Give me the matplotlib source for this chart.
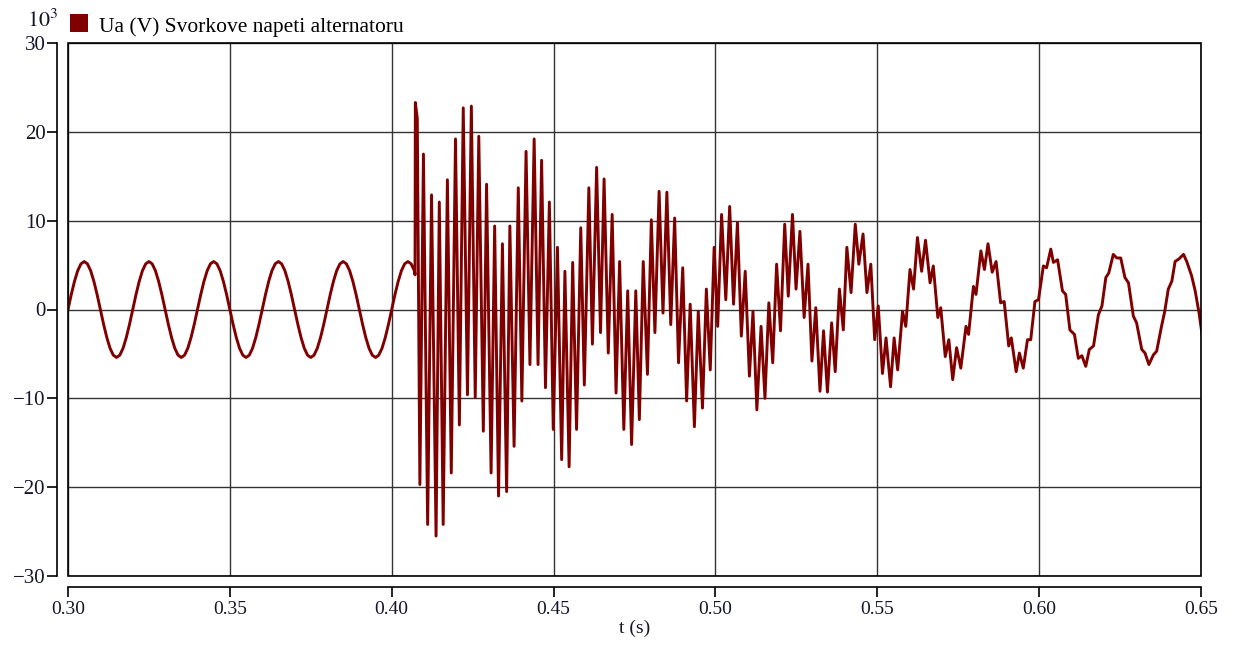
import numpy as np
import matplotlib
matplotlib.use('Agg')
import matplotlib.pyplot as plt
from matplotlib.patches import Rectangle

# napeti pred poruchou, vzorky po 1 ms (10^3 V)
t_pre = np.round(np.arange(0.300, 0.4075, 0.001), 3)
v_pre = [
    0, 1.67, 3.17, 4.37, 5.14, 5.40, 5.14, 4.37, 3.17, 1.67, 0, -1.67, -3.17, -4.37, -5.14, -5.40, -5.14, -4.37, -3.17, -1.67,
    0, 1.67, 3.17, 4.37, 5.14, 5.40, 5.14, 4.37, 3.17, 1.67, 0, -1.67, -3.17, -4.37, -5.14, -5.40, -5.14, -4.37, -3.17, -1.67,
    0, 1.67, 3.17, 4.37, 5.14, 5.40, 5.14, 4.37, 3.17, 1.67, 0, -1.67, -3.17, -4.37, -5.14, -5.40, -5.14, -4.37, -3.17, -1.67,
    0, 1.67, 3.17, 4.37, 5.14, 5.40, 5.14, 4.37, 3.17, 1.67, 0, -1.67, -3.17, -4.37, -5.14, -5.40, -5.14, -4.37, -3.17, -1.67,
    0, 1.67, 3.17, 4.37, 5.14, 5.40, 5.14, 4.37, 3.17, 1.67, 0, -1.67, -3.17, -4.37, -5.14, -5.40, -5.14, -4.37, -3.17, -1.67,
    0, 1.67, 3.17, 4.37, 5.14, 5.40, 5.14, 4.37,
]

# prechodovy dej - vrcholy a udoli
t_tr = [
    0.4072, 0.4073, 0.4079, 0.4087, 0.4098, 0.4111, 0.4123, 0.4137, 0.4147, 0.4159,
    0.4172, 0.4184, 0.4197, 0.4209, 0.4221, 0.4234, 0.4246, 0.4258, 0.4269, 0.4283,
    0.4293, 0.4307, 0.4318, 0.4330, 0.4342, 0.4355, 0.4365, 0.4378, 0.4391, 0.4402,
    0.4415, 0.4427, 0.4440, 0.4452, 0.4463, 0.4475, 0.4487, 0.4499, 0.4512,
    0.4525, 0.4535, 0.4548, 0.4559, 0.4571, 0.4584, 0.4595, 0.4609, 0.4620, 0.4633,
    0.4645, 0.4656, 0.4669, 0.4681, 0.4693, 0.4704, 0.4717, 0.4729, 0.4741, 0.4754,
    0.4765, 0.4777, 0.4790, 0.4802, 0.4813, 0.4826, 0.4838, 0.4850, 0.4862, 0.4874,
    0.4886, 0.4899, 0.4911, 0.4922, 0.4935, 0.4947, 0.4960, 0.4972, 0.4984, 0.4996,
    0.5007, 0.5019, 0.5032, 0.5044, 0.5056, 0.5068, 0.5080, 0.5092, 0.5105, 0.5116,
    0.5128, 0.5141, 0.5153, 0.5165, 0.5177, 0.5189, 0.5201, 0.5214, 0.5225, 0.5238,
    0.5249, 0.5261, 0.5274, 0.5286, 0.5298, 0.5310, 0.5323, 0.5334, 0.5346, 0.5359,
    0.5370, 0.5383, 0.5395, 0.5406, 0.5419, 0.5432, 0.5443, 0.5456, 0.5468, 0.5480,
    0.5492, 0.5503,
    0.5516, 0.5527, 0.5541, 0.5552, 0.5563, 0.5578, 0.5588, 0.5601, 0.5612, 0.5624,
    0.5637, 0.5649, 0.5663, 0.5673, 0.5687, 0.5696, 0.5710, 0.5721, 0.5733, 0.5745,
    0.5758, 0.5774, 0.5782, 0.5797, 0.5805, 0.5820, 0.5831, 0.5842, 0.5855, 0.5867,
    0.5881, 0.5892, 0.5906, 0.5914, 0.5929, 0.5939, 0.5951, 0.5964, 0.5974, 0.5987,
    0.5998, 0.6013, 0.6023, 0.6036, 0.6044, 0.6057, 0.6072, 0.6082, 0.6095, 0.6109,
    0.6121, 0.6132, 0.6144, 0.6155, 0.6168, 0.6183, 0.6194, 0.6206, 0.6215, 0.6229,
    0.6240, 0.6252, 0.6265, 0.6276, 0.6291, 0.6301, 0.6317, 0.6327, 0.6339, 0.6353,
    0.6363, 0.6378, 0.6388, 0.6399, 0.6410, 0.6420, 0.6432, 0.6446, 0.6456, 0.6471,
    0.6482, 0.6494, 0.6504,
]
v_tr = [
    3.9, 23.3, 21.5, -19.7, 17.5, -24.2, 12.9, -25.5, 12.1, -24.2,
    14.6, -18.4, 19.2, -13.0, 22.7, -9.6, 22.9, -9.9, 19.5, -13.7,
    14.1, -18.4, 9.4, -21.0, 7.4, -20.5, 9.4, -15.4, 13.7, -10.3,
    17.8, -6.2, 19.2, -6.2, 16.8, -8.8, 12.1, -13.5, 7.0,
    -16.9, 4.3, -17.7, 5.3, -13.5, 9.2, -8.5, 13.7, -3.9, 16.0,
    -2.6, 14.7, -4.9, 10.7, -9.4, 5.4, -13.5, 2.1, -15.2, 2.1,
    -12.4, 5.4, -7.3, 10.1, -2.6, 13.3, -0.4, 13.2, -1.7, 10.3,
    -6.0, 4.7, -10.3, 0.6, -13.2, -0.2, -11.1, 2.3, -6.8, 7.0,
    -1.9, 10.7, 1.1, 11.6, 0.6, 9.8, -3.0, 4.3, -7.5, -0.2,
    -11.3, -1.9, -10.0, 0.75, -6.0, 5.1, -2.4, 9.6, 1.5, 10.7,
    2.3, 8.8, -0.9, 5.1, -5.8, 0.2, -9.2, -2.4, -9.3, -1.5,
    -7.0, 2.3, -2.3, 7.0, 1.9, 9.6, 5.1, 8.5, 1.9, 5.1,
    -3.4, 0.4,
    -7.2, -3.2, -8.7, -3.2, -6.8, -0.2, -1.9, 4.5, 2.3, 8.1,
    4.3, 7.8, 3.0, 4.9, -0.9, 0.2, -5.3, -3.4, -7.9, -4.3,
    -6.6, -1.9, -2.8, 2.6, 1.7, 6.6, 4.5, 7.4, 4.2, 5.4,
    0.75, 0.9, -4.1, -3.2, -7.0, -4.9, -6.6, -3.4, -3.4, 0.9,
    1.1, 4.9, 4.7, 6.8, 5.3, 5.6, 2.1, 1.7, -2.3, -2.8,
    -5.5, -5.2, -6.4, -4.5, -4.1, -0.6, 0.4, 3.6, 4.1, 6.2,
    5.8, 5.8, 3.6, 3.0, -0.75, -1.5, -4.5, -4.9, -6.2, -5.1,
    -4.7, -1.9, -0.2, 2.3, 3.2, 5.4, 5.7, 6.2, 5.4, 3.8,
    2.1, -0.4, -3.0,
]

x_ticks = [0.30, 0.35, 0.40, 0.45, 0.50, 0.55, 0.60, 0.65]
y_ticks = [-30, -20, -10, 0, 10, 20, 30]

t = np.concatenate([t_pre, t_tr])
v = np.concatenate([v_pre, v_tr])

plt.rcParams['font.family'] = ['Liberation Serif', 'DejaVu Serif']
plt.rcParams['mathtext.fontset'] = 'stix'
txt_col = '#14142a'

fig = plt.figure(figsize=(12.34, 6.49), dpi=100)
ax = fig.add_axes([68/1234, 1 - 576/649, 1133/1234, 533/649])

ax.plot(t, v, color='#800000', lw=2.1, solid_joinstyle='round')

ax.set_xlim(0.30, 0.65)
ax.set_ylim(-30, 30)
ax.set_xticks(x_ticks)
ax.set_yticks(y_ticks)
ax.set_xticklabels(['%.2f' % x for x in x_ticks])
ax.set_yticklabels([str(y).replace('-', '\u2212') for y in y_ticks])
ax.grid(True, color='#333333', lw=1.0)

# osy odsazene od ramecku grafu (11 px)
for s in ['top', 'right']:
    ax.spines[s].set_visible(False)
ax.spines['left'].set_position(('outward', 8))
ax.spines['bottom'].set_position(('outward', 8))
ax.spines['left'].set_linewidth(1.2)
ax.spines['bottom'].set_linewidth(1.2)
ax.add_patch(Rectangle((0, 0), 1, 1, transform=ax.transAxes, fill=False,
                       ec='black', lw=1.2, clip_on=False, zorder=5))

ax.tick_params(axis='y', direction='out', length=7, width=1.2, labelsize=15,
               labelcolor=txt_col, pad=1)
ax.tick_params(axis='x', direction='out', length=7, width=1.2, labelsize=14,
               labelcolor=txt_col, pad=3)
ax.set_xlabel('t (s)', fontsize=14, color=txt_col, labelpad=1)

# legenda a jednotky
fig.text(27/1234, 1 - 27/649, '$10^3$', fontsize=16, color=txt_col)
fig.patches.append(Rectangle((70/1234, 1 - 32/649), 18/1234, 18/649,
                             transform=fig.transFigure, fc='#800000', ec='none'))
fig.text(99/1234, 1 - 32/649, 'Ua (V) Svorkove napeti alternatoru',
         fontsize=15.5, color='black')

fig.savefig('out.png', dpi=100)
